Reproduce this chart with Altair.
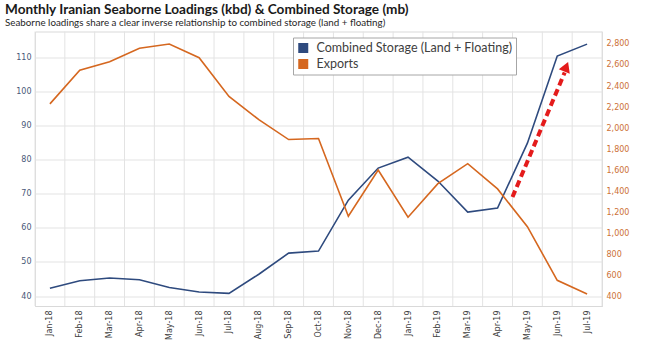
import altair as alt
import pandas as pd

months = ["Jan-18", "Feb-18", "Mar-18", "Apr-18", "May-18", "Jun-18", "Jul-18",
          "Aug-18", "Sep-18", "Oct-18", "Nov-18", "Dec-18", "Jan-19", "Feb-19",
          "Mar-19", "Apr-19", "May-19", "Jun-19", "Jul-19"]
storage = [42.3, 44.5, 45.3, 44.8, 42.5, 41.2, 40.8, 46.4, 52.6, 53.2, 68.1,
           77.5, 80.7, 73.7, 64.6, 65.8, 84.8, 110.3, 113.8]
exports = [2230, 2550, 2630, 2760, 2800, 2670, 2300, 2080, 1890, 1900, 1160,
           1600, 1150, 1470, 1660, 1420, 1060, 550, 420]
left_ticks = [40, 50, 60, 70, 80, 90, 100, 110]
right_ticks = [400, 600, 800, 1000, 1200, 1400, 1600, 1800, 2000, 2200, 2400, 2600, 2800]
# annotation arrow (month index, storage units)
arrow_x = [15.5, 17.25]
arrow_y = [69.0, 105.5]
head_x = [17.3]
head_y = [107.2]

S_NAME = "Combined Storage (Land + Floating)"
E_NAME = "Exports"
series_names = [S_NAME, E_NAME]
line_colors = ["#2E4A7E", "#D5671F"]

idx = list(range(len(months)))
df = pd.DataFrame({"i": idx, "month": months, "storage": storage, "exports": exports})
grid_df = pd.DataFrame({"i": [k - 0.5 for k in range(len(months) + 1)]})
arrow_df = pd.DataFrame({"i": arrow_x, "v": arrow_y})
head_df = pd.DataFrame({"i": head_x, "v": head_y})

LEFT_DOM = [37.1, 117.5]
RIGHT_DOM = [305, 2919]
X_DOM = [-0.5, len(months) - 0.5]

label_expr = "[" + ",".join(f"'{m}'" for m in months) + "][datum.value]"
xscale = alt.Scale(domain=X_DOM, nice=False, zero=False)
xenc = alt.X("i:Q", scale=xscale,
             axis=alt.Axis(title=None, values=idx, labelExpr=label_expr, labelAngle=-90,
                           labelAlign="right", labelBaseline="middle",
                           ticks=False, grid=False, domainColor="#D9D9D9",
                           labelFont="DejaVu Sans", labelFontSize=8, labelColor="#404040",
                           labelPadding=4, labelOverlap=False, labelFlush=False))

color_scale = alt.Scale(domain=series_names, range=line_colors)
legend = alt.Legend(title=None, orient="none", legendX=258, legendY=6,
                    symbolType="square", symbolSize=16, symbolStrokeWidth=6,
                    labelFont="Lato", labelFontSize=12.5, labelColor="#404040",
                    labelLimit=400, clipHeight=13,
                    strokeColor="#A6A6A6", fillColor="white", padding=4,
                    rowPadding=3, labelOffset=7)

grid_rules = alt.Chart(grid_df).mark_rule(color="#E3E3E3", strokeWidth=1).encode(x=xenc)

storage_line = alt.Chart(df).mark_line(strokeWidth=1.6).encode(
    x=xenc,
    y=alt.Y("storage:Q", scale=alt.Scale(domain=LEFT_DOM, nice=False, zero=False),
            axis=alt.Axis(title=None, values=left_ticks, orient="left", ticks=False,
                          domain=False, grid=True, gridColor="#E3E3E3",
                          labelFont="DejaVu Sans", labelFontSize=8,
                          labelColor="#4A5878", labelPadding=4)),
    color=alt.Color("s:N", scale=color_scale, legend=legend),
).transform_calculate(s=f"'{S_NAME}'")

exports_line = alt.Chart(df).mark_line(strokeWidth=1.6).encode(
    x=xenc,
    y=alt.Y("exports:Q", scale=alt.Scale(domain=RIGHT_DOM, nice=False, zero=False),
            axis=alt.Axis(title=None, values=right_ticks, orient="right", ticks=False,
                          domain=False, grid=False, format=",.0f",
                          labelFont="DejaVu Sans", labelFontSize=8,
                          labelColor="#CC7036", labelPadding=4)),
    color=alt.Color("s:N", scale=color_scale, legend=legend),
).transform_calculate(s=f"'{E_NAME}'")

ay = alt.Y("v:Q", scale=alt.Scale(domain=LEFT_DOM, nice=False, zero=False), axis=None)
arrow_line = alt.Chart(arrow_df).mark_line(color="#E41B1B", strokeWidth=4,
                                           strokeDash=[7, 4]).encode(x=xenc, y=ay)
arrow_head = alt.Chart(head_df).mark_point(shape="triangle-up", filled=True, color="#E41B1B",
                                           size=140, angle=22, opacity=1).encode(x=xenc, y=ay)

chart = alt.layer(grid_rules, storage_line, exports_line, arrow_line, arrow_head).resolve_scale(
    y="independent").properties(
    width=567, height=274.5,
    autosize=alt.AutoSizeParams(type="none"),
    padding={"left": 35, "top": 31.5, "right": 48, "bottom": 44.5},
    title=alt.TitleParams(
        text="Monthly Iranian Seaborne Loadings (kbd) & Combined Storage (mb)",
        subtitle="Seaborne loadings share a clear inverse relationship to combined storage (land + floating)",
        anchor="start", frame="group", dx=-30, offset=3,
        font="Lato", fontSize=13.6, fontWeight="bold", color="#1A1A1A",
        subtitleFont="Lato", subtitleFontSize=9.8, subtitleColor="#262626", subtitlePadding=2,
    ),
).configure_view(stroke="#D9D9D9")

chart.save("out.html", embed_options={"renderer": "svg", "actions": False})
